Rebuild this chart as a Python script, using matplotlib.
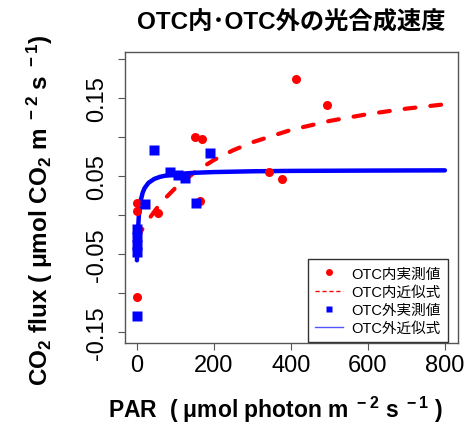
import matplotlib
matplotlib.use('Agg')
import matplotlib.pyplot as plt
from matplotlib.lines import Line2D

plt.rcParams['font.family'] = ['Liberation Sans', 'Noto Sans CJK JP', 'DejaVu Sans']
plt.rcParams['mathtext.default'] = 'regular'

# measured points, OTC inside (red) / outside (blue)
in_par = [412, 151, 170, 344, 378, 0, 0, 55, 164, 494, 0]
in_flux = [0.175, 0.0996, 0.097, 0.0555, 0.046, 0.015, 0.005, 0.002, 0.018, 0.1415, -0.1055]
out_par = [44, 190, 86, 106, 125, 21, 153, 0, 0, 0, 0, 0]
out_flux = [0.0837, 0.080, 0.0547, 0.051, 0.047, 0.014, 0.016, -0.018, -0.028, -0.038, -0.047, -0.129]

# fitted curves
in_fit_par = [0, 10, 25, 50, 75, 100, 150, 200, 250, 300, 400, 500, 600, 700, 800]
in_fit_flux = [-0.030, -0.0213, -0.0094, 0.0078, 0.0223, 0.0347, 0.0549, 0.0706, 0.0831,
               0.0933, 0.1091, 0.1206, 0.1294, 0.1364, 0.1420]
out_fit_par = [0, 2, 5, 10, 15, 20, 30, 45, 60, 80, 100, 150, 200, 300, 400, 600, 800]
out_fit_flux = [-0.058, -0.0256, -0.0005, 0.019, 0.0288, 0.0346, 0.0413, 0.0463, 0.049,
                0.0511, 0.0524, 0.0542, 0.0551, 0.0561, 0.0566, 0.057, 0.0573]

y_ticks = [-0.15, -0.10, -0.05, 0.00, 0.05, 0.10, 0.15, 0.20]
y_labels = ['-0.15', '', '-0.05', '', '0.05', '', '0.15', '']
x_ticks = [0, 200, 400, 600, 800]

W, H = 473, 427
fig = plt.figure(figsize=(W / 100, H / 100), dpi=100)
ax = fig.add_axes([125 / W, 1 - 344 / H, 333 / W, 291 / H])

ax.plot(in_fit_par, in_fit_flux, color='red', lw=3, dashes=(2.6, 3.6),
        dash_capstyle='round', zorder=2)
ax.plot(out_fit_par, out_fit_flux, color='blue', lw=3.2, solid_capstyle='round', zorder=2)
ax.plot(in_par, in_flux, 'o', color='red', ms=6.5, mec='none', zorder=3)
ax.plot(out_par, out_flux, 's', color='blue', ms=7.5, mec='none', zorder=3)

ax.set_xlim(-31, 834)
ax.set_ylim(-0.164, 0.209)
ax.set_xticks(x_ticks)
ax.set_xticklabels([str(t) for t in x_ticks])
ax.set_yticks(y_ticks)
ax.set_yticklabels(y_labels, rotation=90, va='center')
ax.tick_params(axis='both', labelsize=17, length=5, width=0.8, color='#555555')
ax.tick_params(axis='x', pad=3)
ax.tick_params(axis='y', pad=7)
for s in ax.spines.values():
    s.set_color('#555555')
    s.set_linewidth(1.0)

handles = [
    Line2D([], [], ls='none', marker='o', ms=5, color='red', mec='none'),
    Line2D([], [], ls='--', lw=1, color='red', dashes=(3, 2)),
    Line2D([], [], ls='none', marker='s', ms=5, color='blue', mec='none'),
    Line2D([], [], ls='-', lw=1, color='#5555ff'),
]
labels = ['OTC内実測値', 'OTC内近似式', 'OTC外実測値', 'OTC外近似式']
leg = ax.legend(handles, labels, loc='lower right', bbox_to_anchor=(0.970, 0.003),
                prop={'family': ['Liberation Sans', 'Noto Sans CJK JP'], 'size': 10.5},
                fancybox=False, framealpha=1, edgecolor='#333333', handlelength=1.9,
                handletextpad=0.6, labelspacing=0.28, borderpad=0.5, borderaxespad=0)
leg.get_frame().set_linewidth(1.0)

lab_font = ['Liberation Sans', 'Noto Sans CJK JP']
fig.text(291 / W, 1 - 23 / H, 'OTC内･OTC外の光合成速度', ha='center', va='center',
         fontsize=17.5, fontweight='bold', family=lab_font)
fig.text(40 / W, 1 - 210 / H, r'CO$_2$ flux ( μmol CO$_2$ m$^{\ -2}$ s$^{\ -1}$)',
         ha='center', va='center', rotation=90, fontsize=17.5, fontweight='bold',
         family=lab_font)
fig.text(276 / W, 1 - 410 / H, r'PAR  ( μmol photon m$^{\ -2}$ s$^{\ -1}$ )',
         ha='center', va='center', fontsize=16.5, fontweight='bold', family=lab_font)

fig.savefig('out.png', dpi=100)
